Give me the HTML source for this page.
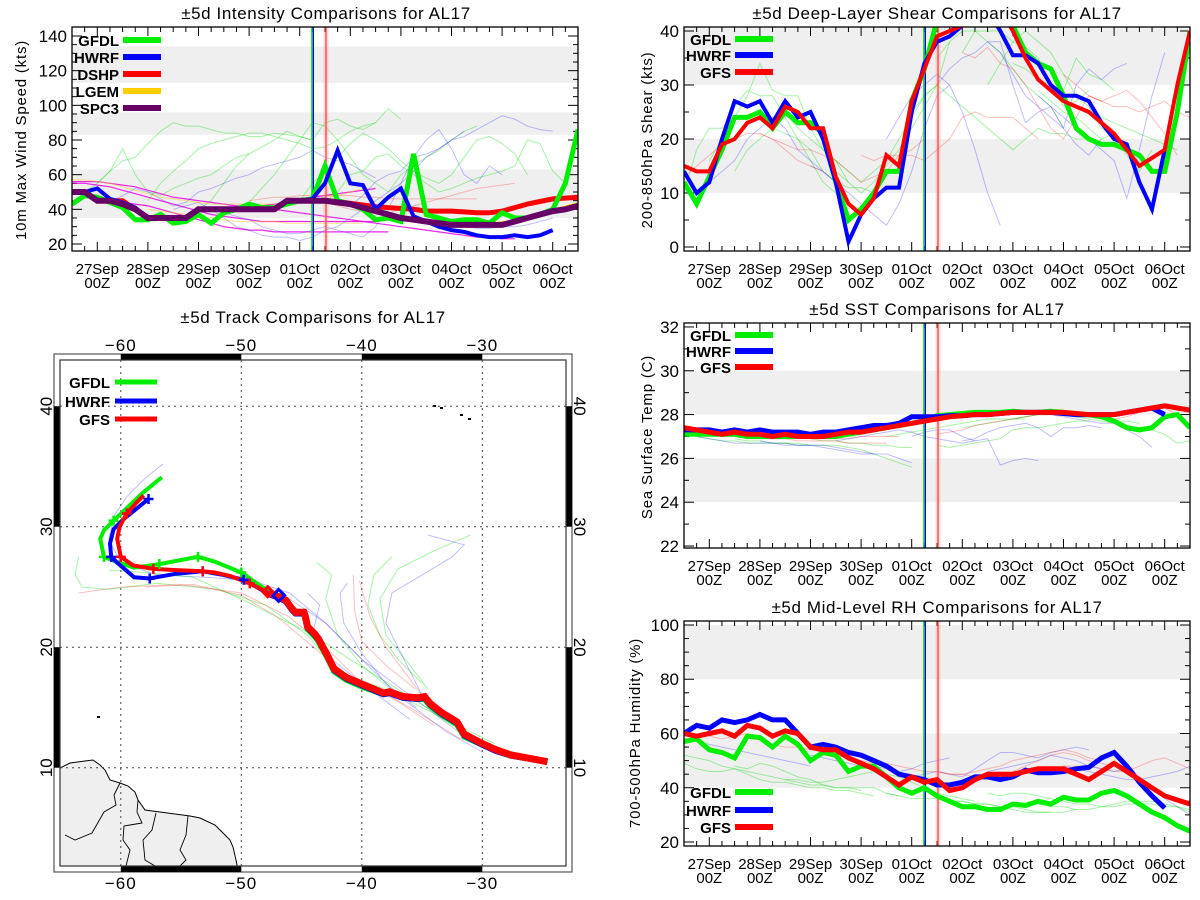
<!DOCTYPE html>
<html><head><meta charset="utf-8"><style>
html,body{margin:0;padding:0;background:#fff}
svg{display:block;font-family:"Liberation Sans",sans-serif}
</style></head><body>
<svg id="s" width="1200" height="900" viewBox="0 0 1200 900" xmlns="http://www.w3.org/2000/svg">
<rect width="1200" height="900" fill="#fff"/>
</svg>
<script>
// ---------- data: time index i -> t = -0.5 + 0.25*i days from 27Sep 00Z ----------
const dayLabels=["27Sep","28Sep","29Sep","30Sep","01Oct","02Oct","03Oct","04Oct","05Oct","06Oct"];
const intTicks=[20,40,60,80,100,120,140];
const shearTicks=[0,10,20,30,40];
const sstTicks=[22,24,26,28,30,32];
const rhTicks=[20,40,60,80,100];
const vlineTimes=[4.24,4.27,4.52];

const intSPC3=[50,50,45,45,43,40,35,35,35,35,40,40,40,40,40,40,40,45,45,45,45,44,43,41,39,37,35,34,33,32,31,31,31,31,31,33,35,37,39,40,42];
const intDSHP=[50,50,45,45,45,40,35,35,35,35,40,40,40,40,40,40,40,45,45,45,45,44.5,43.5,42.5,41.5,41,40.5,40,39,39,39,38.5,38,38,39,41,43,44.5,46,46.5,47];
const intLGEM=[50,50,45,45,43,40,35,35,35,35,40,40,40,40,40,40,40,45,45,45,45,44,43,41,39,37,35.5,34,33,32,31.5,31,31,31,32,33,35,37,39,41,43];
const intGFDL=[43,48,47,44,41,34,34,37,32,33,37,32,38,40,43,41,41,43,45,46,65,45,43,40,34,35,33,72,37,35,33,34,34,32,38,35,35,37,40,55,86];
const intHWRF=[50,50,52,46,44,41,35,35,35,35,40,40,40,40,40,40,40,45,45,46,55,74,55,54,40,47,52,36,33,30,28,27,25,24,24,25,24,25,28];
const intThinStart=[0,2,6,10,14,18,20,0,0,4,16,2,8,12,22,0,6,14,20,24];
const intThinColor=["g","g","g","g","g","g","g","m","m","m","m","b","b","b","b","o","o","r","r","b"];
const intThinVals=[
[42,50,55,62,75,60,50,48,52,55,58,60,65,70,72],
[55,62,68,70,78,85,90,88,88,86,84,84,82,82,84,83,82,80],
[45,55,62,68,75,78,80,82,84,84,82,80,78,75,76,80,85,88,90],
[40,45,55,65,72,76,80,85,82,80,90,92,88,86,90,98,92],
[44,52,60,70,80,90,88,80,70,60,55,50,60,65,70,74,80,85,88],
[45,55,62,70,78,84,80,75,68,62,58,55,60,70,80,82,78,72,60],
[44,50,60,62,70,72,65,60,55,50,52,55,58,60,62,65,80,78,62,55],
[56,56,56,55,54,53,51,49,47,46,45,44,43,42,42,42,43,44,46,47,48,49,50,51,52],
[55,55,54,53,51,49,47,45,43,41,39,37,36,35,34,33,33,33,33,33,33,33,33,33,33,34],
[44,43,42,40,38,36,34,32,30,29,28,28,27,27,27,27,27,27,27,27,27,27],
[40,39,38,37,36,35,34,33,32,31,30,29,28,27,26,25,24,24,23,23],
[48,44,48,52,50,46,42,44,50,52,55,58,60,64,66,68,70,74,70,68,66,62,58],
[40,42,44,40,35,30,28,25,24,24,22,24,28,30,35,40,45,50,55,62,70,75,80,85],
[38,36,34,30,28,26,26,28,30,28,26,24,30,40,55,70,80,86,75,60,55,65,60],
[42,48,56,60,62,70,72,75,80,82,86,90,94,92,88,86,85],
[57,57,56,55,53,51,49,47,46,45,44,43,43,43,43,43,43,44,45,46,47,48,50,52],
[40,39,38,37,36,35,34,33,33,33,33,32,32,32,32,32,32,32],
[45,46,47,47,48,48,48,48,48,47,47,46,46,46,46,46,46,46,46],
[44,42,40,39,38,38,40,42,44,46,48,50,52,53,54,55],
[38,36,34,33,32,31,30,30,29,29,30,30,31,33,35]];

const shGFS=[15,14,14,19,20,23,24,22,26,25,22,22,13,8,6,9,17,15,27,33,39,40,41,45,46,44,40,35,31,29,27,26,25,23,21,18,15,16.5,18,30,40];
const shHWRF=[14,10,12,20,27,26,27,23,27,24,25,20,12,1,6,9,11,11,25,34,38,39,41,44,44,40,35.5,35.5,34,30,28,28,27,23,20,19,12,7,18];
const shGFDL=[12,8,13,18,24,24,25,22,25,23,23,21,12,5,7,10,14,14,27,33,42,45,46,46,45,42,41,36,34,33,28,22,20,19,19,18,17,14,14,25,40];
const shThinStart=[0,2,4,8,12,18,20,22,24,26,28,30,2,10,16,20,24,28,0,6,14,22,30,32];
const shThinColor=["g","g","g","g","g","g","g","g","g","g","g","g","b","b","b","b","b","b","r","r","r","r","r","r"];
const shThinVals=[
[10,18,22,22,24,28,34,29,28,28,22,18,16,12],
[16,20,26,29,28,28,24,20,16,12,10,8,7],
[14,18,20,22,21,20,18,14,12,11,11,10],
[25,22,20,18,16,14,12,14,16,20,24,28,30],
[14,12,10,12,15,18,22,26,30,38],
[25,28,30,28,26,24,22,20,18,20,22,21,21,20,20],
[35,38,40,40,38,36,33,30,28,26,22],
[36,40,40,40,38,37,35,30,26,27,29],
[30,34,38,40,38,36,32,28,26,22,20],
[34,33,31,30,29,35,32,31,29],
[29,27,25,24,22,20,21,17,14,18],
[27,26,25,24,23,22,21,20,19,18],
[12,14,16,20,22,24,22,18,16,14,12],
[15,14,12,10,8,6,4,8,14,22,28,30],
[20,24,28,30,32,30,25,18,10,4],
[30,33,35,36,38,38,30,23,25,26,22,19,17,20],
[38,36,32,28,26,24,22,30,33,31,33,34],
[28,26,24,22,20,18,16,9,18,28,36],
[13,15,17,19,20,21,21,20,18,16,15,14],
[21,20,19,18,18,17,16,14,12,13,14,17,18,20],
[17,16,17,17,17,16,18,20,24,25,24,24,24,22,20],
[36,35,37,34,33,30,26,22,20,24,28,27],
[32,30,28,27,28,29,27,24,21,17],
[28,27,26,26,25,26,27,25,24]];

const sstGFS=[27.4,27.3,27.2,27.1,27.2,27.1,27.1,27.0,27.1,27.0,27.0,27.0,27.1,27.2,27.2,27.3,27.4,27.5,27.6,27.7,27.8,27.9,27.95,28.0,28.0,28.05,28.1,28.1,28.1,28.1,28.1,28.05,28.0,28.0,28.0,28.1,28.2,28.3,28.4,28.3,28.2];
const sstHWRF=[27.3,27.3,27.3,27.2,27.3,27.2,27.3,27.2,27.2,27.2,27.1,27.2,27.2,27.3,27.4,27.5,27.5,27.6,27.9,27.9,27.9,27.95,27.95,28.0,28.0,28.05,28.1,28.1,28.1,28.1,28.05,28.0,28.0,28.0,28.0,28.1,28.2,28.3,28.0];
const sstGFDL=[27.1,27.1,27.1,27.1,27.1,27.0,27.0,27.0,27.0,27.0,27.0,27.0,27.0,27.1,27.2,27.3,27.4,27.5,27.6,27.7,27.95,28.0,28.05,28.1,28.1,28.1,28.15,28.1,28.1,28.15,28.1,28.0,28.0,27.9,27.7,27.4,27.3,27.4,27.9,28.0,27.4];
const sstThinStart=[0,4,10,16,20,22,26,0,6,12,18,22,30,2,10,20,34];
const sstThinColor=["g","g","g","g","g","g","g","b","b","b","b","b","b","r","r","r","r"];
const sstThinVals=[
[27.2,27.0,26.9,26.8,26.8,26.7,26.7,26.7,26.7,26.7,26.6],
[26.9,26.8,26.8,26.7,26.7,26.6,26.6,26.6,26.6,26.5,26.4,26.2,26.0,25.8,25.6],
[26.9,26.8,26.8,26.7,26.7,26.6,26.6,26.5,26.5],
[27.0,27.1,27.2,27.3,27.4,27.5,27.6,27.7,27.8,27.8,27.8,27.8],
[26.6,26.5,26.6,26.7,26.8,26.9,27.3,27.4,27.4,27.5,27.6,27.7,27.7],
[27.4,27.5,27.6,27.7,27.8,27.9,28.0,28.0,28.0,27.9,27.9,27.8,27.7,27.7,27.6],
[27.8,27.9,28.0,28.0,28.0,27.9,27.8,27.7,27.6,27.5,27.4,27.3,27.1,26.7,26.8],
[27.3,27.0,26.9,26.8,26.7,26.7,26.7,26.7,26.6,26.6,26.6,26.6,26.5,26.4,26.3,26.2],
[26.8,26.7,26.7,26.6,26.6,26.5,26.4,26.3,26.2,26.2,26.2,26.0,25.8],
[26.8,26.9,27.0,27.1,27.2,27.3,27.2,27.0,26.9,26.8,26.7,26.8],
[27.0,27.2,27.3,27.3,27.0,26.8,26.9,25.7,25.9,26.0,25.9],
[26.8,26.9,27.2,27.4,27.5,27.6,27.4,27.0,27.4,27.4,27.5,27.4],
[27.9,27.8,27.7,27.6,27.6,27.3,27.0,26.5],
[27.1,27.0,27.0,26.9,26.9,26.9,26.9,26.8,26.8,26.8,26.8,26.7,26.7,26.7,26.7],
[26.9,26.9,26.9,26.9,27.0,27.0,27.0,27.0],
[27.1,27.2,27.3,27.5,27.6,27.7,27.8,27.9,28.0,28.0,27.9],
[27.8,27.9,28.1,28.2,28.3,28.0]];

const rhGFS=[60,59,60,61,59,63,62,59,61,60,55,54,54,51,49,47,44,41,44,42,43,39,40,43,45,45,45,46,47,47,47,45,43,46,49,46,43,40,37,35.5,34];
const rhHWRF=[60,63,62,65,64,65,67,65,65,60,55,56,55,53,52,50,48,45,44,43,41,41,42,44,44,43,44,46.5,45.5,45.5,46,47,47.5,51,53,48,42,37,32.5];
const rhGFDL=[57,58,54,53,51,59,58.5,55,59,56,50,53,52,46,48,48,44,40,38,40,37,35,33,33,32,32,34,33.5,35,34,36.5,35.5,35.5,38,39,37,34,31,29,26,24];
const rhThinStart=[0,0,4,8,16,20,24,28,0,10,18,24,30,36,2,12,20,24,30];
const rhThinColor=["g","g","g","g","g","g","g","g","b","b","b","b","b","b","r","r","r","r","r"];
const rhThinVals=[
[52,51,50,48,47,46,45,44,43,42,41,41,40,40,39],
[49,47,46,46,47,45,43,42,42,41,40,40,39,39,38,37],
[48,47,49,48,46,44,43,41,40,40,40,40,38,37],
[43,43,42,42,43,44,45,46,45,44,42,40,38,37,36,35],
[38,37,36,36,36,35,35,34,34,33,32,31,31,31],
[36,35,35,34,34,33,33,32,31,31,31,32],
[38,37,38,38,37,36,35,34,34,33,34,35,35,35,34,33,32],
[34,33,33,32,32,33,33,34,34,34,33,33,31,30],
[58,57,56,55,54,53,52,51,50,49,48],
[52,51,50,49,48,48,47,46,47,49,50,51],
[44,45,46,45,44,47,50,53,53,52,51,53,54,55,54],
[46,47,48,49,50,52,51,50,48,47,46,47],
[48,47,46,45,44,43,43,44,45,46,48,50],
[44,40,36,33,30,28,28],
[59,58,59,60,58,56,55,55,54,53,52,51],
[52,51,50,49,49,48,47,46,46,45,45,44],
[46,45,45,46,47,48,50,51,52,53,54,53,51,50],
[43,44,46,48,50,52,53,52,50,49,48,47],
[48,48,48,47,46,46,48,50,51,49,47,46,45,44]];

// ---------- track data (lon, lat) ----------
const trkGFSLon=[-24.6,-27.6,-28.9,-30.2,-31.5,-32.1,-33.4,-34.3,-34.8,-35.3,-36.6,-37.7,-38.2,-39.9,-41.3,-42.3,-42.9,-43.6,-43.9,-44.5,-44.7,-44.8,-45.5,-45.8,-46.3,-46.9,-47.7,-49.3,-50.9,-52.2,-53.2,-55.4,-57.3,-59.0,-60.0,-60.3,-60.1,-59.5,-58.7,-58.1];
const trkGFSLat=[10.5,11.05,11.5,12.1,12.8,13.8,14.6,15.3,15.9,15.8,15.9,16.3,16.2,16.9,17.5,18.2,19.4,20.7,21.1,21.7,22.6,22.9,22.9,23.2,23.9,24.2,24.5,25.3,25.9,26.2,26.3,26.4,26.5,26.8,27.5,29.0,30.0,31.1,32.0,32.6];
const trkHWRFLon=[-24.6,-27.6,-28.9,-30.2,-31.5,-32.1,-33.4,-34.3,-34.8,-35.3,-36.6,-37.7,-38.2,-39.9,-41.3,-42.3,-42.9,-43.6,-43.9,-44.5,-44.7,-44.8,-45.5,-45.8,-46.3,-46.9,-47.7,-49.8,-51.5,-53.2,-55.4,-57.6,-58.9,-60.4,-60.8,-60.9,-60.6,-59.8,-57.7];
const trkHWRFLat=[10.5,11.0,11.4,12.0,12.7,13.7,14.5,15.2,15.8,15.7,15.8,16.2,16.1,16.8,17.4,18.1,19.3,20.6,21.0,21.6,22.5,22.8,22.8,23.1,23.8,24.1,24.4,25.6,26.0,26.3,26.1,25.7,25.8,27.1,27.5,28.6,29.8,30.6,32.3];
const trkGFDLLon=[-24.6,-27.6,-28.9,-30.2,-31.5,-32.1,-33.4,-34.3,-34.8,-35.3,-36.6,-37.7,-38.2,-39.9,-41.3,-42.3,-42.9,-43.6,-43.9,-44.5,-44.7,-44.8,-45.5,-45.8,-46.3,-46.9,-47.7,-50.0,-52.2,-53.6,-56.8,-58.9,-60.4,-61.4,-61.7,-61.4,-60.6,-58.2,-56.6];
const trkGFDLLat=[10.5,11.0,11.4,12.0,12.6,13.6,14.4,15.1,15.7,15.7,15.8,16.2,16.1,16.7,17.3,18.0,19.2,20.5,20.9,21.5,22.4,22.8,22.8,23.1,23.8,24.2,24.6,26.2,27.1,27.5,26.9,26.6,27.1,27.5,29.0,29.7,30.5,32.8,34.1];
const trkThinColor=["g","r","b","g","g","r","r","g","b","b","b","g","r","b"];
const trkThinLon=[
[-63.5,-63.8,-63.2,-61,-57,-52,-48,-44.5,-42,-38,-34,-30,-24.6],
[-63.5,-60,-55,-50,-46,-43,-40.5,-36,-32,-28],
[-56.5,-58,-59.5,-60.5,-61,-60,-57,-53,-49,-46,-43,-40,-36,-32,-29],
[-31,-34,-37,-38.5,-38,-36,-34.5],
[-37.5,-39,-39.5,-38.5,-37,-35],
[-40.7,-40.6,-40,-38,-35.5],
[-40.2,-39.3,-38,-36.5,-35],
[-43.7,-42.5,-43,-42,-40,-37],
[-34.5,-31.5,-32.5,-35,-37.5,-38,-36.5,-35],
[-41.2,-41.8,-41.5,-40,-38,-35.5],
[-44.5,-43.5,-44,-42.5,-40,-36],
[-61,-58,-54,-50,-47,-44,-41,-37,-33,-29],
[-58,-54,-50,-47,-44,-41,-37,-34],
[-53,-49,-46,-43,-40,-37,-33,-30]];
const trkThinLat=[
[27.5,26,25,24.8,25.3,24.8,23.5,21,18,16.5,14.5,12,10.5],
[24.5,25,25.2,24.5,22.5,20,17.5,15,12.5,11],
[35.2,34,32.5,31,29,27,26,25.8,25.5,24.5,22,19,16,13,11.5],
[29.3,28,26.5,24,21,18.5,16.5],
[27.5,26,23.5,21,19,17],
[26,23,20.5,18.5,16.5],
[25.5,22.5,20,18,16],
[27,26,24,21,18.5,16],
[29.3,28.5,27.5,26,24.5,22,19,16],
[25.3,24.5,22,19.5,17,15],
[24.5,23.5,21.5,19,17,14],
[26.4,26.2,25.8,24,22.5,21,19,16.5,14,12],
[25,25.2,24.3,22.5,20,17.5,15.5,13.5],
[26.2,25.5,24,22,19,16,13,11.3]];
const mkGFSLon=[-49.3,-53.2,-57.3,-60.0,-59.5], mkGFSLat=[25.3,26.3,26.5,27.5,31.1];
const mkHWRFLon=[-49.8,-53.2,-57.6,-60.8,-57.7], mkHWRFLat=[25.6,26.3,25.7,27.5,32.3];
const mkGFDLLon=[-50.0,-53.6,-56.8,-61.4,-60.6], mkGFDLLat=[26.2,27.5,26.9,27.5,30.5];

// ---------- drawing ----------
const NS="http://www.w3.org/2000/svg";
const svg=document.getElementById('s');
const COL={g:"#00ee00",b:"#0000ff",r:"#ff0000",o:"#ffcc00",m:"#ee00ee",p:"#660066"};
const LIGHT={g:"rgba(0,220,0,0.35)",b:"rgba(40,40,255,0.3)",r:"rgba(255,40,40,0.3)",o:"rgba(255,190,0,0.45)",m:"rgba(230,0,230,0.85)"};
function el(tag,attrs,parent){const e=document.createElementNS(NS,tag);for(const k in attrs)e.setAttribute(k,attrs[k]);(parent||svg).appendChild(e);return e;}
function txt(s,x,y,size,anchor,parent,extra){const t=el('text',Object.assign({x:x,y:y,'font-size':size,'text-anchor':anchor||'middle',fill:'#000'},extra||{}),parent);t.textContent=s;return t;}

function makePanel(p){
  const g=el('g',{});
  
  
  p.xs=t=>p.x0+(t+0.5)*(p.x1-p.x0)/10;
  p.ys=v=>p.y1-(v-p.vmin)*(p.y1-p.y0)/(p.vmax-p.vmin);
  const cid='clip-'+p.name;
  const cp=el('clipPath',{id:cid},g);el('rect',{x:p.x0,y:p.y0,width:p.x1-p.x0,height:p.y1-p.y0},cp);
  // bands
  p.bands.forEach(b=>{const r=el('rect',{x:p.x0,y:p.ys(Math.min(b[1],p.vmax)),width:p.x1-p.x0,height:p.ys(b[0])-p.ys(Math.min(b[1],p.vmax)),fill:'#efefef'},g);
    });
  // title
  const tt=txt(p.title,p.titleX,p.titleY,17,'middle',g,{'letter-spacing':'0.6'});
  
  // y ticks
  const yt=p.yTicks, step=yt[1]-yt[0], mstep=step/p.minor;
  for(let v=yt[0];v<=yt[yt.length-1]+1e-9;v+=mstep){
    const y=p.ys(v);const major=Math.abs((v-yt[0])/step-Math.round((v-yt[0])/step))<1e-6;const L=major?10:5;
    el('line',{x1:p.x0,x2:p.x0+L,y1:y,y2:y,stroke:'#000','stroke-width':1},g);
    el('line',{x1:p.x1,x2:p.x1-L,y1:y,y2:y,stroke:'#000','stroke-width':1},g);
  }
  yt.forEach(v=>{const t=txt(String(v),p.x0-5,p.ys(v)+6,17,'end',g);});
  const yl=txt(p.ytitle,0,0,15,'middle',g,{transform:`translate(${p.ytX},${p.ytY}) rotate(-90)`,'letter-spacing':'0.8'});
  
  // x ticks
  for(let k=-1;k<=39;k++){const t=k*0.25;if(t<-0.5||t>9.5)continue;const x=p.xs(t);const L=(k%4===0)?9:5;
    el('line',{x1:x,x2:x,y1:p.y1,y2:p.y1-L,stroke:'#000','stroke-width':1},g);
    el('line',{x1:x,x2:x,y1:p.y0,y2:p.y0+L,stroke:'#000','stroke-width':1},g);}
  dayLabels.forEach((d,k)=>{const x=p.xs(k);
    const a=txt(d,x,p.y1+23,15,'middle',g);
    const b=txt('00Z',x,p.y1+37,15,'middle',g);});
  const dg=el('g',{'clip-path':`url(#${cid})`},g);
  // thin lines
  p.thinVals.forEach((vals,j)=>{const pts=vals.map((v,i)=>p.xs(-0.5+0.25*(p.thinStart[j]+i)).toFixed(1)+','+p.ys(v).toFixed(1)).join(' ');
    const pl=el('polyline',{points:pts,fill:'none',stroke:LIGHT[p.thinColor[j]],'stroke-width':p.thinColor[j]==='m'?1.2:1},dg);
    });
  // vertical lines
  const vc=["#00dd00","#0000ff","#ff4444"];
  vlineTimes.forEach((t,k)=>{const x=p.xs(t);
    if(k===2){el('rect',{x:x-2.5,y:p.y0,width:5,height:p.y1-p.y0,fill:'rgba(255,150,150,0.35)'},dg);}
    const l=el('line',{x1:x,x2:x,y1:p.y0,y2:p.y1,stroke:vc[k],'stroke-width':1.3},dg);
    });
  // main series
  p.series.forEach(s=>{const pts=s.vals.map((v,i)=>p.xs(-0.5+0.25*i).toFixed(1)+','+p.ys(v).toFixed(1)).join(' ');
    const pl=el('polyline',{points:pts,fill:'none',stroke:COL[s.c],'stroke-width':s.w||5,'stroke-linejoin':'miter'},dg);
    });
  // box
  el('rect',{x:p.x0,y:p.y0,width:p.x1-p.x0,height:p.y1-p.y0,fill:'none',stroke:'#000','stroke-width':1.3},g);
  // legend
  p.legend.forEach((L,k)=>{const y=p.legY[k];
    const lg=el('g',{},g);
    txt(L[0],p.legTextX,y+6,15,'end',lg,{'font-weight':'bold'});
    el('line',{x1:p.legLineX,x2:p.legLineX+38,y1:y,y2:y,stroke:COL[L[1]],'stroke-width':6},lg);});
}

makePanel({name:'intensity-panel',title:'±5d Intensity Comparisons for AL17',titleX:326,titleY:19,
  x0:72,x1:578,y0:27,y1:251,vmin:15.96,vmax:145.19,bands:[[113,134],[83,96],[35,63]],
  yTicks:intTicks,minor:4,ytitle:'10m Max Wind Speed (kts)',ytX:26,ytY:140,
  thinStart:intThinStart,thinColor:intThinColor,thinVals:intThinVals,
  series:[{name:'lgem-line',vals:intLGEM,c:'o',w:4},{name:'dshp-line',vals:intDSHP,c:'r',w:5},{name:'gfdl-line',vals:intGFDL,c:'g',w:5},{name:'hwrf-line',vals:intHWRF,c:'b',w:4},{name:'spc3-line',vals:intSPC3,c:'p',w:6}],
  legend:[['GFDL','g'],['HWRF','b'],['DSHP','r'],['LGEM','o'],['SPC3','p']],legY:[40,57,74,91,108],legTextX:119,legLineX:123});

makePanel({name:'shear-panel',title:'±5d Deep-Layer Shear Comparisons for AL17',titleX:937,titleY:19,
  x0:684,x1:1190,y0:27,y1:251,vmin:-0.74,vmax:40.74,bands:[[30,45],[10,20]],
  yTicks:shearTicks,minor:2,ytitle:'200-850hPa Shear (kts)',ytX:652,ytY:140,
  thinStart:shThinStart,thinColor:shThinColor,thinVals:shThinVals,
  series:[{name:'gfdl-line',vals:shGFDL,c:'g',w:5},{name:'hwrf-line',vals:shHWRF,c:'b',w:4},{name:'gfs-line',vals:shGFS,c:'r',w:4}],
  legend:[['GFDL','g'],['HWRF','b'],['GFS','r']],legY:[39,55,72],legTextX:731,legLineX:735});

makePanel({name:'sst-panel',title:'±5d SST Comparisons for AL17',titleX:937,titleY:315,
  x0:684,x1:1190,y0:323,y1:548,vmin:21.91,vmax:32.18,bands:[[28,30],[24,26]],
  yTicks:sstTicks,minor:2,ytitle:'Sea Surface Temp (C)',ytX:652,ytY:437,
  thinStart:sstThinStart,thinColor:sstThinColor,thinVals:sstThinVals,
  series:[{name:'gfdl-line',vals:sstGFDL,c:'g',w:5},{name:'hwrf-line',vals:sstHWRF,c:'b',w:5},{name:'gfs-line',vals:sstGFS,c:'r',w:5}],
  legend:[['GFDL','g'],['HWRF','b'],['GFS','r']],legY:[335,351,367],legTextX:731,legLineX:735});

makePanel({name:'rh-panel',title:'±5d Mid-Level RH Comparisons for AL17',titleX:937,titleY:613,
  x0:684,x1:1190,y0:621,y1:846,vmin:18.53,vmax:101.47,bands:[[80,100],[40,60]],
  yTicks:rhTicks,minor:4,ytitle:'700-500hPa Humidity (%)',ytX:640,ytY:733,
  thinStart:rhThinStart,thinColor:rhThinColor,thinVals:rhThinVals,
  series:[{name:'gfdl-line',vals:rhGFDL,c:'g',w:5},{name:'hwrf-line',vals:rhHWRF,c:'b',w:5},{name:'gfs-line',vals:rhGFS,c:'r',w:5}],
  legend:[['GFDL','g'],['HWRF','b'],['GFS','r']],legY:[792,810,827],legTextX:731,legLineX:735});

// ---------- track map ----------
(function(){
  const g=el('g',{});
  const X=lon=>120.8+(lon+60)*12.05, Y=lat=>767.7-(lat-10)*12.05;
  const ix0=60,ix1=566,iy0=360,iy1=866,ox0=54,ox1=572,oy0=354,oy1=872;
  const t=txt('±5d Track Comparisons for AL17',313,323,17,'middle',g,{'letter-spacing':'0.6'});
  
  el('clipPath',{id:'clip-map'},g).appendChild(Object.assign(document.createElementNS(NS,'rect'),{}));
  const cr=g.querySelector('#clip-map rect');cr.setAttribute('x',ix0);cr.setAttribute('y',iy0);cr.setAttribute('width',ix1-ix0);cr.setAttribute('height',iy1-iy0);
  const mg=el('g',{'clip-path':'url(#clip-map)'},g);
  // land
  const land=el('polygon',{points:'60,768 70,763 85,761 93,760 100,765 105,770 110,780 120,783 128,786 135,792 138,800 145,810 160,812 175,814 190,816 200,818 215,825 222,832 230,840 233,847 236,860 238,870 60,870',fill:'#efefef',stroke:'#000','stroke-width':1},mg);
  
  ['120,783 114,795 116,805 104,812 92,833 75,840 65,835','138,800 137,812 142,823 124,826 123,840 130,850 126,866','156,813 152,830 143,840 145,860 155,866','188,816 186,835 180,850 186,860 180,866'].forEach(s=>el('polyline',{points:s,fill:'none',stroke:'#000','stroke-width':0.9},mg));
  [[433,405],[440,407],[460,414],[468,418],[97,716]].forEach(p=>el('rect',{x:p[0],y:p[1],width:3,height:2,fill:'#000'},mg));
  // grid
  [-60,-50,-40,-30].forEach(lon=>{const l=el('line',{x1:X(lon),x2:X(lon),y1:iy0,y2:iy1,stroke:'#444','stroke-dasharray':'2,4'},mg);});
  [10,20,30,40].forEach(lat=>{const l=el('line',{x1:ix0,x2:ix1,y1:Y(lat),y2:Y(lat),stroke:'#444','stroke-dasharray':'2,4'},mg);});
  // thin tracks
  trkThinLon.forEach((lons,j)=>{const pts=lons.map((lo,i)=>X(lo).toFixed(1)+','+Y(trkThinLat[j][i]).toFixed(1)).join(' ');
    const pl=el('polyline',{points:pts,fill:'none',stroke:LIGHT[trkThinColor[j]],'stroke-width':1},mg);
    });
  const tracks=[['gfdl-track',trkGFDLLon,trkGFDLLat,'g',4],['hwrf-track',trkHWRFLon,trkHWRFLat,'b',4],['gfs-track',trkGFSLon,trkGFSLat,'r',4]];
  tracks.forEach(tk=>{const pts=tk[1].map((lo,i)=>X(lo).toFixed(1)+','+Y(tk[2][i]).toFixed(1));
    const thick=pts.slice(0,27).join(' '), rest=pts.slice(26).join(' ');
    const a=el('polyline',{points:thick,fill:'none',stroke:COL[tk[3]],'stroke-width':tk[3]==='r'?7:6},mg);
    
    const b=el('polyline',{points:rest,fill:'none',stroke:COL[tk[3]],'stroke-width':tk[4]},mg);
    });
  [[mkGFDLLon,mkGFDLLat,'g'],[mkHWRFLon,mkHWRFLat,'b'],[mkGFSLon,mkGFSLat,'r']].forEach(m=>{
    m[0].forEach((lo,i)=>{const x=X(lo),y=Y(m[1][i]);
      const p=el('path',{d:`M${x-5},${y}H${x+5}M${x},${y-5}V${y+5}`,stroke:COL[m[2]],'stroke-width':2.5},mg);
      });});
  const dx=X(-46.9),dy=Y(24.3);
  el('path',{d:`M${dx},${dy-6}L${dx+6},${dy}L${dx},${dy+6}L${dx-6},${dy}Z`,fill:'none',stroke:'#0000ff','stroke-width':3},mg);
  const rx=X(-47.8),ry=Y(24.6);
  el('path',{d:`M${rx},${ry-5}L${rx+5},${ry}L${rx},${ry+5}L${rx-5},${ry}Z`,fill:'none',stroke:'#ff0000','stroke-width':3},mg);
  // frame
  el('rect',{x:ox0,y:oy0,width:ox1-ox0,height:oy1-oy0,fill:'none',stroke:'#555','stroke-width':1.2},g);
  [[-60,-50],[-40,-30]].forEach(r=>{el('rect',{x:X(r[0]),y:oy0,width:X(r[1])-X(r[0]),height:iy0-oy0,fill:'#000'},g);el('rect',{x:X(r[0]),y:iy1,width:X(r[1])-X(r[0]),height:oy1-iy1,fill:'#000'},g);});
  [[30,40],[10,20]].forEach(r=>{el('rect',{x:ox0,y:Y(r[1]),width:ix0-ox0,height:Y(r[0])-Y(r[1]),fill:'#000'},g);el('rect',{x:ix1,y:Y(r[1]),width:ox1-ix1,height:Y(r[0])-Y(r[1]),fill:'#000'},g);});
  el('rect',{x:ix0,y:iy0,width:ix1-ix0,height:iy1-iy0,fill:'none',stroke:'#333','stroke-width':1.2},g);
  [-60,-50,-40,-30].forEach(lon=>{
    const a=txt('\u2212'+(-lon),X(lon),351,17,'middle',g,{'letter-spacing':'1'});
    const b=txt('\u2212'+(-lon),X(lon),889,17,'middle',g,{'letter-spacing':'1'});});
  [10,20,30,40].forEach(lat=>{
    const a=txt(String(lat),0,0,17,'middle',g,{transform:`translate(${52},${Y(lat)}) rotate(-90)`});
    const b=txt(String(lat),0,0,17,'middle',g,{transform:`translate(${574},${Y(lat)}) rotate(90)`});});
  [['GFDL','g',382],['HWRF','b',401],['GFS','r',419]].forEach(L=>{
    const lg=el('g',{},g);
    txt(L[0],110,L[2]+6,15,'end',lg,{'font-weight':'bold'});
    el('line',{x1:115,x2:157,y1:L[2],y2:L[2],stroke:COL[L[1]],'stroke-width':5},lg);});
})();
</script>
</body></html>
